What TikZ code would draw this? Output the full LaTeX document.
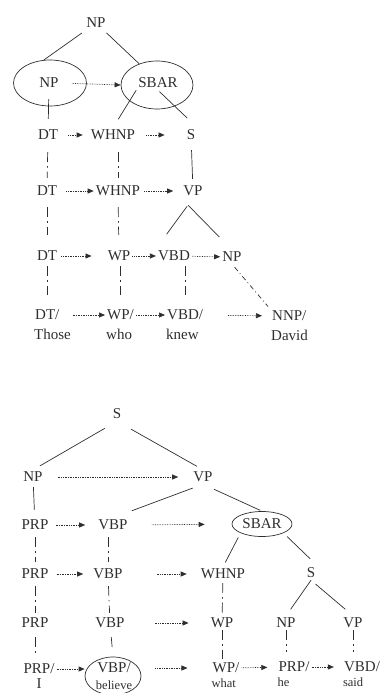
\documentclass[tikz,border=0pt]{standalone}
\usepackage{fontspec}
\setmainfont{Liberation Serif}
\usepackage{tikz}
\usetikzlibrary{arrows.meta}
\usetikzlibrary{shapes.geometric}
\definecolor{ink}{gray}{0.18}
\newcommand{\tagfont}{\fontsize{15}{17}\selectfont}
\newcommand{\wordfont}{\fontsize{12.5}{14}\selectfont}

\begin{document}
\begin{tikzpicture}[x=1pt,y=-1pt,
        tag/.style={font=\tagfont,text=ink,inner sep=2pt},
        word/.style={font=\tagfont,text=ink,inner sep=1pt},
        smallword/.style={font=\wordfont,text=ink,inner sep=1pt},
        ring/.style={ellipse,draw=ink,line width=0.7pt,inner sep=0pt},
        branch/.style={draw=ink,line width=0.7pt},
        chain/.style={draw=ink,line width=0.7pt,dash pattern=on 10pt off 4pt on 1.5pt off 4pt},
        move/.style={draw=ink,line width=0.7pt,densely dotted,-{Triangle[length=6pt,width=5pt]}}]
            \useasboundingbox (0,0) rectangle (380,693);

            \node[tag] (np0) at (96,23) {NP};
            \node[tag] (np1) at (49,83) {NP};
            \node[ring,minimum width=73pt,minimum height=46pt] (np1ring) at (50,83) {};
            \node[tag] (sbar) at (158,83) {SBAR};
            \node[ring,minimum width=72pt,minimum height=48pt] (sbarring) at (157,85) {};

            \node[tag] (dt1) at (48,135) {DT};
            \node[tag] (whnp1) at (113,135) {WHNP};
            \node[tag] (s1) at (191,135) {S};

            \node[tag] (dt2) at (47,191) {DT};
            \node[tag] (whnp2) at (118,191) {WHNP};
            \node[tag] (vp2) at (193,191) {VP};

            \node[tag] (dt3) at (47,256) {DT};
            \node[tag] (wp3) at (119,256) {WP};
            \node[tag] (vbd3) at (174,256) {VBD};
            \node[tag] (np3) at (232,257) {NP};

            \node[tag,anchor=west,label={[word,anchor=north west,yshift=-6pt]south west:Those}] (dt4) at (33,315) {DT/};
            \node[tag,anchor=west,label={[word,anchor=north west,yshift=-6pt]south west:who}] (wp4) at (105,315) {WP/};
            \node[tag,anchor=west,label={[word,anchor=north west,yshift=-6pt]south west:knew}] (vbd4) at (165,315) {VBD/};
            \node[tag,anchor=west,label={[word,anchor=north west,yshift=-6pt]south west:David}] (nnp4) at (270,316) {NNP/};

            \draw[branch,shorten <=5pt] (np0) -- (np1ring.105);
            \draw[branch,shorten <=4pt] (np0) -- (sbarring.130);
            \draw[move,shorten <=11pt] (np1.east) -- (sbarring.west);
            \draw[branch,shorten <=9pt,shorten >=9pt] (np1) -- (dt1);
            \draw[branch,shorten >=10pt] (sbar.south west) -- (whnp1.north);
            \draw[branch,shorten <=2pt,shorten >=14pt] (sbar.south) -- (s1.north east);

            \draw[move,shorten <=8pt,shorten >=6pt] (dt1) -- (whnp1);
            \draw[move,shorten <=9pt,shorten >=20pt] (whnp1) -- (s1);
            \draw[chain,shorten <=10pt,shorten >=6pt] (dt1) -- (dt2);
            \draw[chain,shorten <=10pt,shorten >=6pt] (whnp2 |- whnp1.south) -- (whnp2);
            \draw[branch,shorten <=8pt,shorten >=5pt] (s1) -- (vp2);

            \draw[move,shorten <=7pt] (dt2) -- (whnp2);
            \draw[move,shorten <=2pt,shorten >=8pt] (whnp2) -- (vp2);
            \draw[chain,shorten <=9pt,shorten >=14pt] (dt2) -- (dt3);
            \draw[chain,shorten <=9pt,shorten >=14pt] (whnp2) -- (wp3);
            \draw[branch,shorten <=10pt,shorten >=18pt] (vp2.south) -- (vbd3.north west);
            \draw[branch,shorten <=10pt,shorten >=18pt] (vp2.south west) -- (np3.north);

            \draw[move,shorten <=2pt,shorten >=14pt] (dt3) -- (wp3);
            \draw[move] (wp3) -- (vbd3);
            \draw[move] (vbd3) -- (np3);
            \draw[chain,shorten <=3pt,shorten >=13pt] (dt4.north |- dt3.south) -- (dt4.north);
            \draw[chain,shorten <=3pt,shorten >=13pt] (wp4.north |- wp3.south) -- (wp4.north);
            \draw[chain,shorten <=3pt,shorten >=13pt] (vbd4.north |- vbd3.south) -- (vbd4.north);
            \draw[chain,dash pattern=on 5pt off 3pt on 1pt off 3pt,shorten <=4pt,shorten >=3pt] (np3.south) -- (nnp4.north west);

            \draw[move,shorten <=11pt] (dt4) -- (wp4);
            \draw[move] (wp4) -- (vbd4);
            \draw[move,shorten <=23pt,shorten >=8pt] (vbd4) -- (nnp4);

            \node[tag] (s0) at (117,414) {S};
            \node[tag] (npA) at (33,477) {NP};
            \node[tag] (vpA) at (203,477) {VP};

            \node[tag] (prpB) at (35,525) {PRP};
            \node[tag] (vbpB) at (113,525) {VBP};
            \node[tag] (sbarB) at (262,524) {SBAR};
            \node[ring,minimum width=60pt,minimum height=25pt] (sbarBring) at (262,524) {};

            \node[tag] (prpC) at (35,574) {PRP};
            \node[tag] (vbpC) at (108,574) {VBP};
            \node[tag] (whnpC) at (223,574) {WHNP};
            \node[tag] (sC) at (311,573) {S};

            \node[tag] (prpD) at (35,623) {PRP};
            \node[tag] (vbpD) at (110,623) {VBP};
            \node[tag] (wpD) at (222,623) {WP};
            \node[tag] (npD) at (286,623) {NP};
            \node[tag] (vpD) at (353,623) {VP};

            \node[tag,label={[word,yshift=-1pt]below:I}] (prpE) at (39,669) {PRP/};
            \node[tag,align=center] (vbpE) at (114,676) {VBP/\\{\wordfont believe}};
            \node[ring,minimum width=56pt,minimum height=38pt] (vbpEring) at (113,676) {};
            \node[tag,label={[smallword,anchor=north west,yshift=-2pt]south west:what}] (wpE) at (226,668) {WP/};
            \node[tag,label={[smallword,anchor=north west,yshift=-2pt]south west:he}] (prpE2) at (294,667) {PRP/};
            \node[tag,label={[smallword,anchor=north west,yshift=-2pt]south west:said}] (vbdE) at (362,667) {VBD/};

            \draw[branch,shorten <=14pt,shorten >=8pt] (s0.south) -- (npA.north);
            \draw[branch,shorten <=16pt,shorten >=7pt] (s0.south) -- (vpA.north);
            \draw[move,shorten <=13pt,shorten >=13pt] (npA) -- (vpA);
            \draw[branch,shorten <=3pt,shorten >=8pt] (npA) -- (prpB);
            \draw[branch,shorten <=11pt,shorten >=20pt] (vpA.south) -- (vbpB.north);
            \draw[branch,shorten <=12pt,shorten >=2pt] (vpA.south) -- (sbarBring.north);

            \draw[move,shorten <=5pt,shorten >=11pt] (prpB) -- (vbpB);
            \draw[move,shorten <=22pt,shorten >=27pt] (vbpB) -- (sbarBring);
            \draw[branch,shorten <=5pt,shorten >=5pt] (sbarBring.south west) -- (whnpC.north);
            \draw[branch,shorten <=5pt,shorten >=10pt] (sbarBring.south east) -- (sC.north east);
            \draw[chain,shorten <=5pt,shorten >=5pt] (prpB) -- (prpC);
            \draw[chain,shorten <=5pt,shorten >=5pt] (vbpC |- vbpB.south) -- (vbpC);

            \draw[move,shorten <=6pt,shorten >=8pt] (prpC) -- (vbpC);
            \draw[move,shorten <=32pt,shorten >=12pt] (vbpC) -- (whnpC);
            \draw[chain,shorten <=5pt,shorten >=3pt] (prpC) -- (prpD);
            \draw[chain,shorten <=5pt,shorten >=3pt] (vbpC) -- (vbpD);
            \draw[chain,shorten <=2pt] (whnpC) -- (wpD);
            \draw[branch,shorten >=8pt] (sC.south) -- (npD.north);
            \draw[branch,shorten <=6pt,shorten >=10pt] (sC.south) -- (vpD.north);

            \draw[move,shorten <=28pt,shorten >=20pt] (vbpD) -- (wpD);
            \draw[chain,shorten <=7pt,shorten >=8pt] (prpD) -- (prpD |- prpE.north);
            \draw[chain,shorten <=7pt,shorten >=6pt] (vbpD) -- (vbpEring.north);
            \draw[chain,shorten >=2pt] (wpD) -- (wpD |- wpE.north);
            \draw[chain,shorten >=8pt] (npD) -- (npD |- prpE2.north);
            \draw[chain,shorten >=8pt] (vpD) -- (vpD |- vbdE.north);

            \draw[move] (prpE.east) -- (prpE.east -| vbpEring.west);
            \draw[move,shorten <=14pt,shorten >=23pt] (vbpEring.east |- wpE.west) -- (wpE.west);
            \draw[move,shorten >=9pt] (wpE) -- (prpE2);
            \draw[move,shorten >=8pt] (prpE2) -- (vbdE);
        \end{tikzpicture}
\end{document}
